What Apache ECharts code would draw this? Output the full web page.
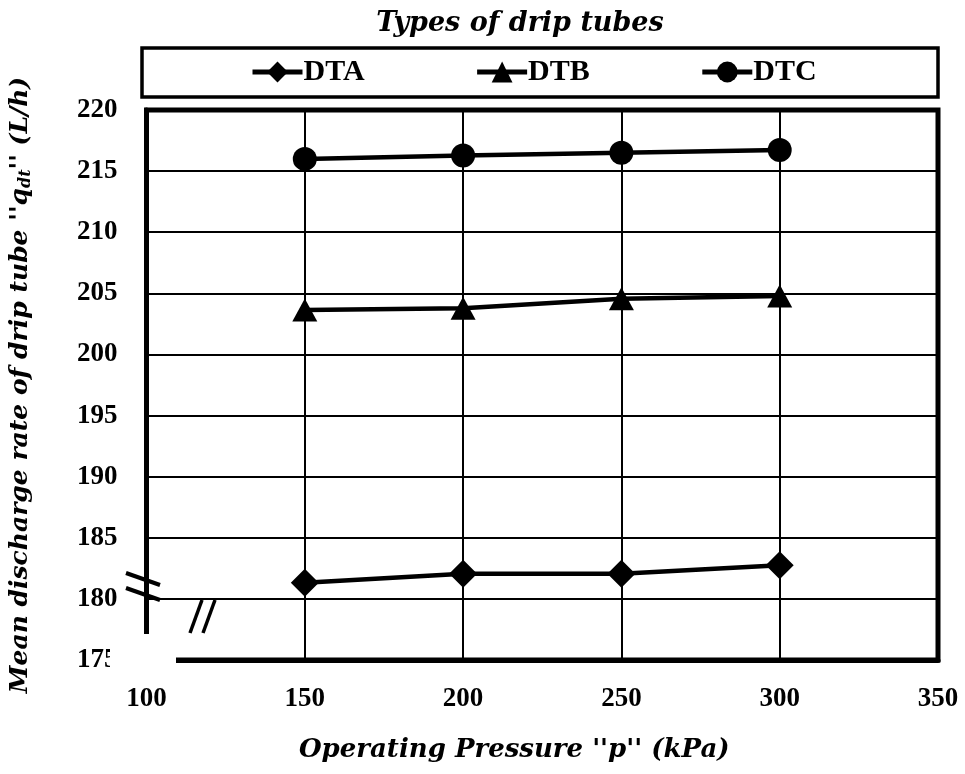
<!DOCTYPE html>
<html>
<head>
<meta charset="utf-8">
<script src="https://cdn.jsdelivr.net/npm/echarts@6/dist/echarts.min.js"></script>
<style>
  html, body { margin: 0; padding: 0; background: #fff; }
  #container { width: 965px; height: 774px; }
</style>
</head>
<body>
<div id="container"></div>
<script>
// operating pressure (kPa)
let pressure = [150, 200, 250, 300];
// mean discharge rate (L/h) per drip tube type
let dta = [181.33, 182.05, 182.05, 182.76];
let dtb = [203.64, 203.78, 204.55, 204.78];
let dtc = [216.0, 216.28, 216.5, 216.73];
let seriesNames = ["DTA", "DTB", "DTC"];
let symbols = ["diamond", "triangle", "circle"];
let symbolSizes = [[28, 28], [25, 23], 24];

let serifBold = "'Liberation Serif', 'Times New Roman', serif";
let mathFont = "'DejaVu Serif', serif";

let dom = document.getElementById("container");
let myChart = echarts.init(dom, null, { renderer: "canvas" });

function pairs(ys) {
  return pressure.map(function (x, i) {
    return [x, ys[i]];
  });
}

let allData = [dta, dtb, dtc];
let series = seriesNames.map(function (name, k) {
  return {
    name: name,
    type: "line",
    data: pairs(allData[k]),
    symbol: symbols[k],
    symbolSize: symbolSizes[k],
    showSymbol: true,
    lineStyle: { color: "#000", width: 4.5 },
    itemStyle: { color: "#000" },
    z: 5,
  };
});

let option = {
  animation: false,
  backgroundColor: "#fff",
  title: {
    text: "Types of drip tubes",
    left: 515,
    top: 5,
    textAlign: "center",
    textStyle: {
      fontFamily: mathFont,
      fontStyle: "italic",
      fontWeight: "bold",
      fontSize: 27,
      color: "#000",
    },
  },
  legend: {
    data: seriesNames,
    left: 250,
    top: 57,
    padding: 0,
    itemWidth: 50,
    itemHeight: 26,
    itemGap: 110,
    lineStyle: { width: 5, color: "#000" },
    textStyle: {
      fontFamily: serifBold,
      fontWeight: "bold",
      fontSize: 30,
      color: "#000",
      padding: [0, 0, 0, -4],
    },
  },
  grid: {
    left: 146,
    right: 27,
    top: 110,
    bottom: 114,
    show: true,
    borderColor: "#000",
    borderWidth: 5,
  },
  xAxis: {
    type: "value",
    min: 100,
    max: 350,
    interval: 50,
    name: "Operating Pressure ''p'' (kPa)",
    nameLocation: "middle",
    nameGap: 77,
    nameTextStyle: {
      fontFamily: mathFont,
      fontStyle: "italic",
      fontWeight: "bold",
      fontSize: 26,
      color: "#000",
      padding: [0, 56, 0, 0],
    },
    axisLine: { show: true, lineStyle: { color: "#000", width: 5 } },
    axisTick: { show: false },
    axisLabel: {
      margin: 26,
      fontFamily: serifBold,
      fontWeight: "bold",
      fontSize: 27,
      color: "#000",
    },
    splitLine: { show: true, lineStyle: { color: "#000", width: 2 } },
  },
  yAxis: {
    type: "value",
    min: 175,
    max: 220,
    interval: 5,
    name: "{i|Mean discharge rate of drip tube ''q}{s|dt}{i|'' (L/h)}",
    nameLocation: "middle",
    nameGap: 113,
    nameTextStyle: {
      color: "#000",
      rich: {
        i: {
          fontFamily: mathFont,
          fontStyle: "italic",
          fontWeight: "bold",
          fontSize: 25,
          color: "#000",
        },
        s: {
          fontFamily: mathFont,
          fontStyle: "italic",
          fontWeight: "bold",
          fontSize: 16,
          color: "#000",
          padding: [10, 0, 0, 0],
        },
      },
    },
    axisLine: { show: true, lineStyle: { color: "#000", width: 5 } },
    axisTick: { show: false },
    axisLabel: {
      margin: 29,
      fontFamily: serifBold,
      fontWeight: "bold",
      fontSize: 27,
      color: "#000",
    },
    splitLine: { show: true, lineStyle: { color: "#000", width: 2 } },
  },
  graphic: [
    // legend frame
    {
      type: "rect",
      shape: { x: 142, y: 48, width: 796, height: 49 },
      style: { fill: "none", stroke: "#000", lineWidth: 3.5 },
      z: 100,
    },
    // axis break: blank corner
    {
      type: "rect",
      shape: { x: 110, y: 634, width: 66, height: 50 },
      style: { fill: "#fff" },
      z: 100,
    },
    // axis break marks on y axis
    {
      type: "line",
      shape: { x1: 126, y1: 573, x2: 160, y2: 585 },
      style: { stroke: "#000", lineWidth: 4 },
      z: 101,
    },
    {
      type: "line",
      shape: { x1: 126, y1: 588, x2: 160, y2: 600 },
      style: { stroke: "#000", lineWidth: 4 },
      z: 101,
    },
    // axis break marks on x axis
    {
      type: "line",
      shape: { x1: 190, y1: 633, x2: 202, y2: 600 },
      style: { stroke: "#000", lineWidth: 3.5 },
      z: 101,
    },
    {
      type: "line",
      shape: { x1: 203, y1: 633, x2: 215, y2: 600 },
      style: { stroke: "#000", lineWidth: 3.5 },
      z: 101,
    },
  ],
  series: series,
};

myChart.setOption(option);
window.addEventListener("resize", myChart.resize);
</script>
</body>
</html>
